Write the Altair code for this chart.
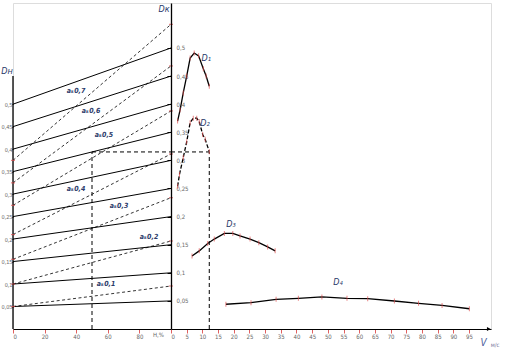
import altair as alt
import pandas as pd

# ---------------- data ----------------
# left scale (H, %) : nomogram lines
D_levels = [0.05, 0.10, 0.15, 0.20, 0.25, 0.30, 0.35, 0.40, 0.45, 0.50]
H_ticks = [0, 20, 40, 60, 80]
ak_values = [0.1, 0.2, 0.3, 0.4, 0.5, 0.6, 0.7]
ak_left_D = [0.05, 0.10, 0.155, 0.21, 0.275, 0.325, 0.375]      # on left D scale (H = 0)
ak_right_D = [0.0765, 0.1566, 0.2336, 0.3114, 0.388, 0.468, 0.542]  # on right D scale (H = 100)
left_scale_ratio = 0.8   # left D scale is 0.8 x right D scale

# example key
H_example = 50
D_example = 0.315
V_example = 12.2

# right part: D vs V curves
D1_V = [2.1, 2.9, 3.9, 5.0, 6.1, 7.4, 8.8, 10.3, 11.2, 12.2]
D1_D = [0.370, 0.390, 0.420, 0.450, 0.482, 0.491, 0.486, 0.463, 0.450, 0.432]
D2_V = [2.1, 2.7, 3.9, 5.0, 6.1, 7.1, 8.2, 9.0, 10.1, 10.9, 12.2]
D2_D = [0.254, 0.275, 0.305, 0.333, 0.367, 0.375, 0.375, 0.369, 0.346, 0.3375, 0.3155]
D3_V = [6.7, 9.0, 11.7, 13.8, 17.0, 19.7, 22.0, 25.2, 28.0, 30.8, 33.2]
D3_D = [0.130, 0.139, 0.152, 0.160, 0.170, 0.170, 0.1655, 0.160, 0.1536, 0.146, 0.139]
D4_V = [17.5, 25.5, 33.5, 40.6, 48.1, 56.1, 62.7, 71.2, 78.9, 86.4, 95.1]
D4_D = [0.044, 0.0468, 0.0528, 0.0546, 0.057, 0.0546, 0.054, 0.0498, 0.0457, 0.042, 0.036]
V_ticks = list(range(0, 100, 5))

# ---------------- tables ----------------
solid_rows = []
for i, d in enumerate(D_levels):
    solid_rows.append({"line": i, "H": 0, "y": d * left_scale_ratio})
    solid_rows.append({"line": i, "H": 100, "y": d})
solid_df = pd.DataFrame(solid_rows)

dash_rows = []
for i, (a, l, r) in enumerate(zip(ak_values, ak_left_D, ak_right_D)):
    dash_rows.append({"line": i, "H": 0, "y": l * left_scale_ratio})
    dash_rows.append({"line": i, "H": 100, "y": r})
dash_df = pd.DataFrame(dash_rows)

ak_lab_df = pd.DataFrame({
    "H": [58.9, 86.1, 67.1, 39.9, 57.6, 49.4, 39.9],
    "y": [0.0801, 0.1637, 0.2189, 0.2491, 0.345, 0.3879, 0.4235],
    "t": ["aₖ" + str(a).replace(".", ",") for a in ak_values],
})

curve_rows = []
for name, vs, ds in [("D1", D1_V, D1_D), ("D2", D2_V, D2_D), ("D3", D3_V, D3_D), ("D4", D4_V, D4_D)]:
    for v, d in zip(vs, ds):
        curve_rows.append({"curve": name, "V": v, "D": d})
curve_df = pd.DataFrame(curve_rows)

# ---------------- scales / axes ----------------
FONT = "Liberation Sans Narrow, DejaVu Sans Condensed, Liberation Sans, sans-serif"
y_dom = [0, 0.58]
yS = alt.Scale(domain=y_dom, nice=False, zero=False)
hS = alt.Scale(domain=[0, 100], nice=False)
vS = alt.Scale(domain=[0, 102], nice=False)
lab_expr = "replace(format(datum.value, '.2~f'), '.', ',')"

h_axis = alt.Axis(values=H_ticks, title=None, grid=False, tickColor="#e06060", tickSize=4,
                  domainColor="black", domainWidth=1.2, labelFontSize=6, labelColor="#666",
                  labelFont=FONT, labelPadding=0)
v_axis = alt.Axis(values=V_ticks, title=None, grid=False, tickColor="#e06060", tickSize=4,
                  domainColor="black", domainWidth=1.2, labelFontSize=6, labelColor="#666",
                  labelFont=FONT, labelPadding=0)
right_D_axis = alt.Axis(orient="left", values=D_levels, labelExpr=lab_expr, title=None, grid=False,
                        tickColor="black", tickSize=4, domainColor="black", domainWidth=1.3,
                        labelAlign="left", labelPadding=-9, labelFontSize=6, labelColor="#666",
                        labelFont=FONT)
left_D_axis = alt.Axis(orient="left", values=D_levels, labelExpr=lab_expr, title=None, grid=False,
                       tickColor="black", tickSize=1, domain=False, labelFontSize=5.5,
                       labelColor="#666", labelFont=FONT, labelPadding=0)

W_L, W_R, HGT = 158, 320, 326

# ---------------- left panel ----------------
xH = alt.X("H:Q", scale=hS, axis=h_axis)
yL = alt.Y("y:Q", scale=yS, axis=None)

solid = alt.Chart(solid_df).mark_line(color="black", strokeWidth=1).encode(x=xH, y=yL, detail="line:N")
dashed = alt.Chart(dash_df).mark_line(color="black", strokeWidth=0.8, strokeDash=[3, 2.5]).encode(
    x=xH, y=yL, detail="line:N")
ends = alt.Chart(dash_df).mark_tick(color="#e05050", orient="horizontal", size=4, thickness=1.2).encode(x=xH, y=yL)

left_axis_line = alt.Chart(pd.DataFrame({"H": [0], "y": [0], "y2": [0.45]})).mark_rule(
    color="black", strokeWidth=1.3).encode(x=xH, y=yL, y2="y2:Q")

key_df = pd.DataFrame({"H": [H_example], "H2": [100], "y": [0], "yk": [D_example]})
key_v = alt.Chart(key_df).mark_rule(color="black", strokeWidth=1, strokeDash=[4, 3]).encode(
    x=xH, y=alt.Y("y:Q", scale=yS, axis=None), y2="yk:Q")
key_h = alt.Chart(key_df).mark_rule(color="black", strokeWidth=1, strokeDash=[4, 3]).encode(
    x=xH, x2="H2:Q", y=alt.Y("yk:Q", scale=yS, axis=None))

ak_text = alt.Chart(ak_lab_df).mark_text(fontSize=7, fontStyle="italic", fontWeight="bold",
                                         color="#2a3a6a", font=FONT).encode(x=xH, y=yL, text="t:N")

ltxt_df = pd.DataFrame({"H": [-3.8, 95.6, 92], "y": [0.459, 0.569, -0.011], "t": ["Dн", "Dк", "H,%"]})
l_texts = alt.Chart(ltxt_df.iloc[:2]).mark_text(fontSize=9, fontStyle="italic", color="#2a3a6a",
                                                font=FONT).encode(x=xH, y=yL, text="t:N")
h_label = alt.Chart(ltxt_df.iloc[2:]).mark_text(fontSize=6, color="#666", font=FONT).encode(
    x=xH, y=yL, text="t:N")

left_axis_layer = alt.Chart(pd.DataFrame({"H": [0], "v": [0]})).mark_point(opacity=0).encode(
    x=xH, y=alt.Y("v:Q", scale=alt.Scale(domain=[0, y_dom[1] / left_scale_ratio], nice=False), axis=left_D_axis))

left_main = alt.layer(solid, dashed, key_v, key_h, left_axis_line, ends, ak_text, l_texts, h_label)
left = alt.layer(left_axis_layer, left_main).resolve_scale(y="independent").properties(width=W_L, height=HGT)

# ---------------- right panel ----------------
xV = alt.X("V:Q", scale=vS, axis=v_axis)
yR = alt.Y("D:Q", scale=yS, axis=right_D_axis)

c_solid = alt.Chart(curve_df).transform_filter("datum.curve != 'D2'").mark_line(
    color="black", strokeWidth=1.3).encode(x=xV, y=yR, detail="curve:N")
c_dash = alt.Chart(curve_df).transform_filter("datum.curve == 'D2'").mark_line(
    color="black", strokeWidth=1.3, strokeDash=[4, 2]).encode(x=xV, y=yR)
c_pts = alt.Chart(curve_df).mark_tick(color="#e05050", orient="vertical", size=5, thickness=1).encode(x=xV, y=yR)

rkey_df = pd.DataFrame({"V": [0], "V2": [V_example], "Vk": [V_example], "D": [D_example], "z": [0]})
rkey_h = alt.Chart(rkey_df).mark_rule(color="black", strokeWidth=1, strokeDash=[4, 3]).encode(
    x=xV, x2="V2:Q", y=yR)
rkey_v = alt.Chart(rkey_df).mark_rule(color="black", strokeWidth=1, strokeDash=[4, 3]).encode(
    x=alt.X("Vk:Q", scale=vS, axis=v_axis), y=alt.Y("z:Q", scale=yS, axis=right_D_axis), y2="D:Q")

arrow = alt.Chart(pd.DataFrame({"V": [101.3], "D": [0]})).mark_point(
    shape="triangle-right", filled=True, color="black", size=18, opacity=1).encode(x=xV, y=yR)

clab_df = pd.DataFrame({"V": [11.2, 10.8, 19.1, 53.2], "D": [0.482, 0.3665, 0.187, 0.0836],
                        "t": ["D₁", "D₂", "D₃", "D₄"]})
c_labels = alt.Chart(clab_df).mark_text(fontSize=9, fontStyle="italic", color="#2a3a6a", font=FONT).encode(
    x=xV, y=yR, text="t:N")

vlab_df = pd.DataFrame({"V": [99.6, 103.3], "D": [-0.025, -0.028], "t": ["V", "м/с"]})
v_big = alt.Chart(vlab_df.iloc[:1]).mark_text(fontSize=10, fontStyle="italic", color="#4a5a9a", font=FONT).encode(
    x=xV, y=yR, text="t:N")
v_small = alt.Chart(vlab_df.iloc[1:]).mark_text(fontSize=6, color="#7a7aa0", font=FONT).encode(
    x=xV, y=yR, text="t:N")

right = alt.layer(c_solid, c_dash, rkey_h, rkey_v, c_pts, arrow, c_labels, v_big, v_small).properties(
    width=W_R, height=HGT)

chart = alt.hconcat(left, right, spacing=0, bounds="flush").resolve_scale(
    x="independent", y="independent").properties(
    padding={"left": 0, "top": 2, "right": 4, "bottom": 0}
).configure_view(strokeWidth=0).configure(background="white")

chart.save("out.html", embed_options={"renderer": "svg", "actions": False})
